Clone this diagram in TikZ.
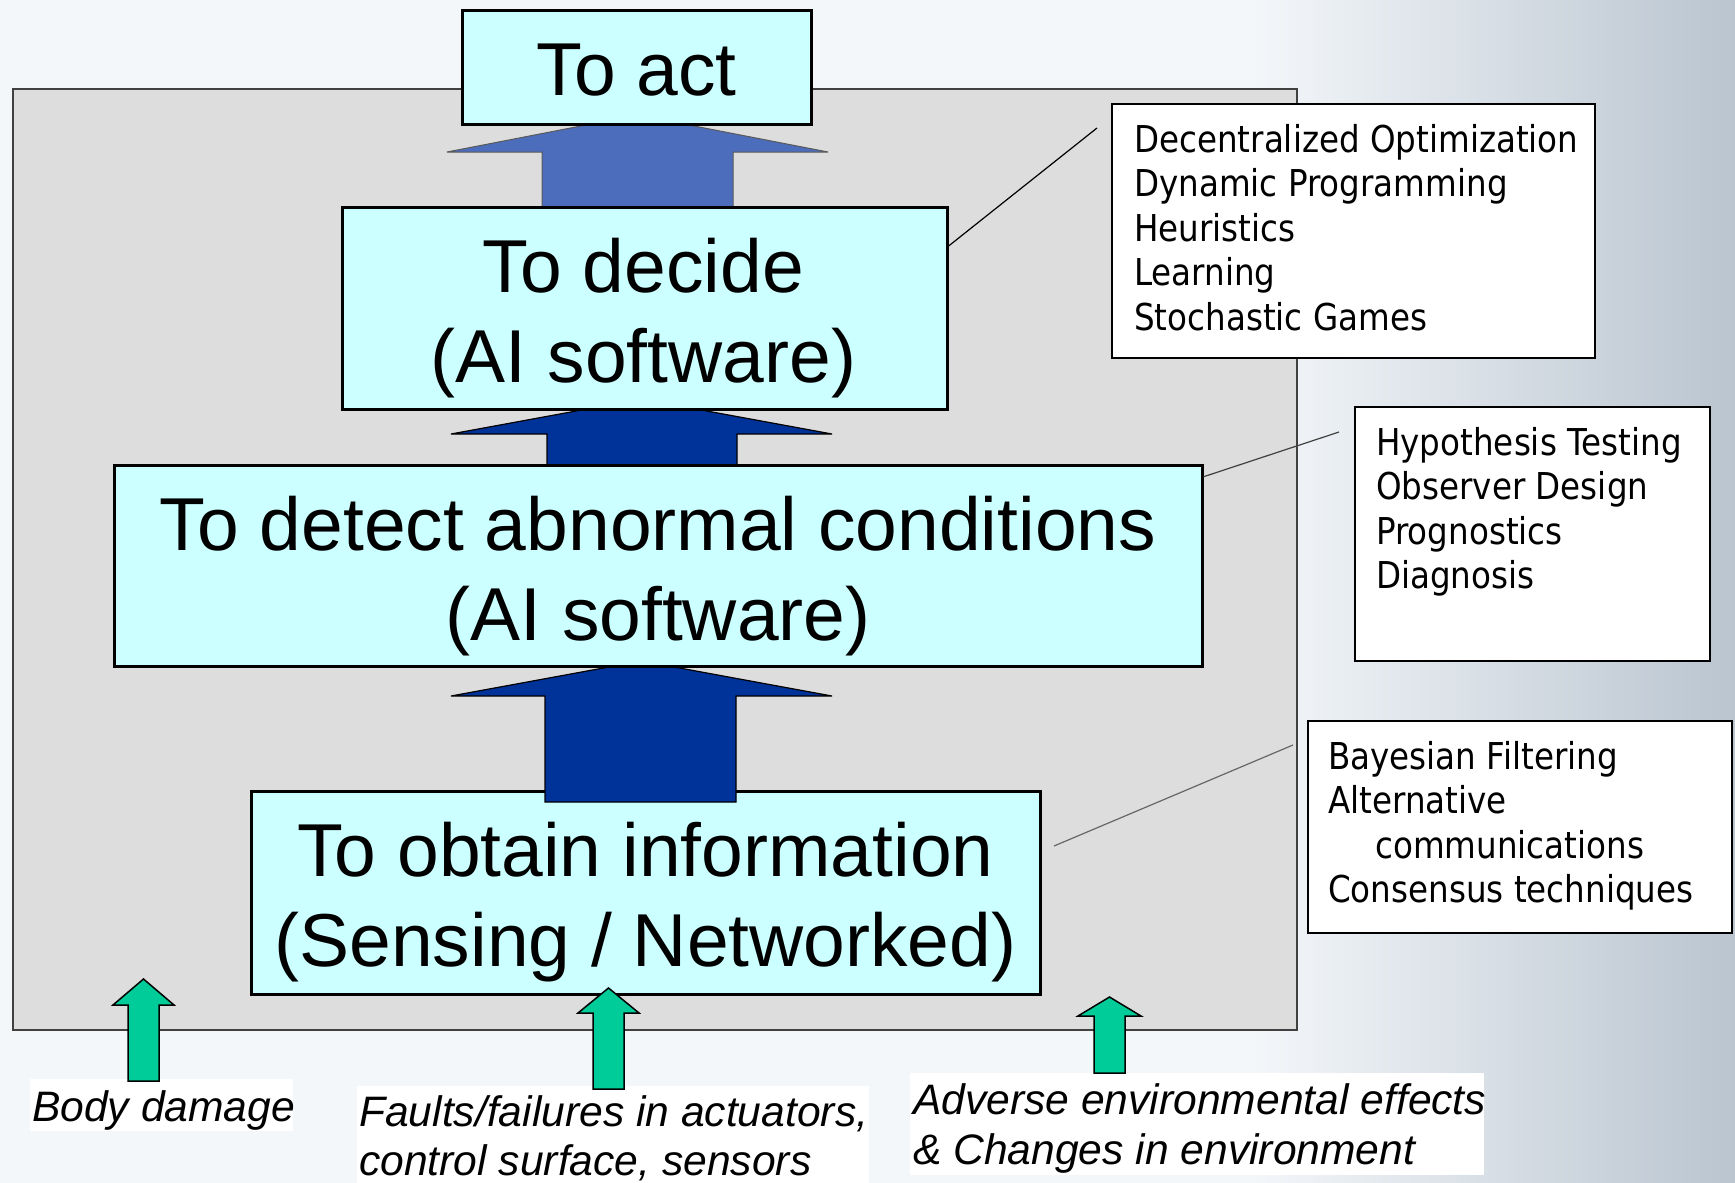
\documentclass[tikz,border=0pt]{standalone}
\usepackage{fontspec}
\setmainfont{Liberation Sans}
\newfontfamily\tah[FakeStretch=0.88]{DejaVu Sans}
\usetikzlibrary{calc}
\definecolor{boxcyan}{HTML}{CCFFFF}
\definecolor{darkblue}{HTML}{003399}
\definecolor{midblue}{HTML}{4C6CBC}
\definecolor{tealgreen}{HTML}{00CC99}
\definecolor{panelgrey}{HTML}{DDDDDD}
\definecolor{panelborder}{HTML}{404040}
\definecolor{bgbase}{HTML}{F4F7FA}
\definecolor{bgright}{HTML}{BAC5D0}
\begin{document}
\begin{tikzpicture}[x=1pt,y=-1pt,
  bigbox/.style={draw=black, line width=3pt, fill=boxcyan, inner sep=0pt},
  bigtext/.style={font=\fontsize{75}{90}\selectfont, anchor=base, inner sep=0pt},
  infobox/.style={draw=black, line width=1.8pt, fill=white, inner sep=0pt},
  infotext/.style={font=\tah\fontsize{37}{44}\selectfont, anchor=base west, inner sep=0pt},
  labeltext/.style={font=\itshape\fontsize{42.6}{50}\selectfont, anchor=base west, inner sep=0pt},
  blockarrow/.style={draw=black, line width=1.2pt, fill=darkblue},
  lightarrow/.style={draw=black!65, line width=1pt, fill=midblue},
  greenarrow/.style={draw=black, line width=1.5pt, fill=tealgreen},
  leader/.style={line width=1.2pt}]
\useasboundingbox (0,0) rectangle (1735,1183);
% slide background
\fill[bgbase] (0,0) rectangle (1735,1183);
\shade[left color=bgbase, right color=bgright] (1250,0) rectangle (1735,1183);
% grey panel
\draw[draw=panelborder, line width=2pt, fill=panelgrey] (12.5,89) rectangle (1297,1030);

% lowest box and the block arrows
\node[bigbox, minimum width=789pt, minimum height=203pt] (obtain) at (645.5,892.5) {};
\draw[blockarrow] (545,802) -- (545,696) -- (451,696) -- (641.5,661) -- (832,696) -- (736,696) -- (736,802) -- cycle;
\draw[blockarrow] (547,465) -- (547,434) -- (451,434) -- (641.5,399) -- (832,434) -- (737,434) -- (737,465) -- cycle;
\draw[lightarrow] (542,207) -- (542,152) -- (447,152) -- (637.5,115) -- (828,152) -- (733,152) -- (733,207) -- cycle;

\node[bigbox, minimum width=1088pt, minimum height=201pt] (detect) at (658,565.5) {};
\node[bigbox, minimum width=605pt, minimum height=202pt] (decide) at (644.5,308) {};
\node[bigbox, minimum width=349pt, minimum height=114pt] (act) at (636.5,67) {};

\node[bigtext] (acttxt) at (636.5,95) {To act};
\node[bigtext] (decidetxtA) at (643.5,292) {To decide};
\node[bigtext] (decidetxtB) at (643.5,382) {(AI software)};
\node[bigtext] (detecttxtA) at (658,550) {To detect abnormal conditions};
\node[bigtext] (detecttxtB) at (658,640) {(AI software)};
\node[bigtext] (obtaintxtA) at (645.5,876) {To obtain information};
\node[bigtext] (obtaintxtB) at (645.5,966) {(Sensing / Networked)};

% information boxes
\node[infobox, minimum width=483pt, minimum height=254pt] (infoA) at (1353.5,231) {};
\node[infobox, minimum width=355pt, minimum height=254pt] (infoB) at (1532.5,534) {};
\node[infobox, minimum width=424pt, minimum height=212pt] (infoC) at (1520,827) {};

\node[infotext] (a1) at (1134,152) {Decentralized Optimization};
\node[infotext] (a2) at (1134,196.5) {Dynamic Programming};
\node[infotext] (a3) at (1134,241) {Heuristics};
\node[infotext] (a4) at (1134,285.5) {Learning};
\node[infotext] (a5) at (1134,330) {Stochastic Games};

\node[infotext] (b1) at (1376,455) {Hypothesis Testing};
\node[infotext] (b2) at (1376,499.5) {Observer Design};
\node[infotext] (b3) at (1376,544) {Prognostics};
\node[infotext] (b4) at (1376,588.5) {Diagnosis};

\node[infotext] (c1) at (1328,769) {Bayesian Filtering};
\node[infotext] (c2) at (1328,813.5) {Alternative};
\node[infotext] (c3) at (1375,858) {communications};
\node[infotext] (c4) at (1328,902.5) {Consensus techniques};

% leader lines
\coordinate (endA) at (1097,128);
\coordinate (endB) at (1339,432);
\coordinate (startC) at (1054,846);
\coordinate (endC) at (1293,745);
\draw[leader] ($(decide.north east)!0.198!(decide.south east)$) -- (endA);
\draw[leader, draw=black!75] ($(detect.north east)!0.065!(detect.south east)$) -- (endB);
\draw[leader, draw=black!60] (startC) -- (endC);

% bottom labels
\fill[white] (30,1079) rectangle (293,1131);
\fill[white] (357,1086) rectangle (869,1183);
\fill[white] (910,1073) rectangle (1484,1175);
\node[labeltext] (lbody) at (32,1121) {Body damage};
\node[labeltext] (lfault1) at (359,1126) {Faults/failures in actuators,};
\node[labeltext] (lfault2) at (359,1175) {control surface, sensors};
\node[labeltext] (ladv1) at (913,1114) {Adverse environmental effects};
\node[labeltext] (ladv2) at (913,1164) {\& Changes in environment};

% green input arrows
\draw[greenarrow] (128,1081) -- (128,1005) -- (113,1005) -- (143.5,979) -- (174,1005) -- (159,1005) -- (159,1081) -- cycle;
\draw[greenarrow] (593,1089) -- (593,1013) -- (578,1013) -- (608.5,988) -- (639,1013) -- (624,1013) -- (624,1089) -- cycle;
\draw[greenarrow] (1094,1073) -- (1094,1016) -- (1078,1016) -- (1109.5,997) -- (1141,1016) -- (1125,1016) -- (1125,1073) -- cycle;
\end{tikzpicture}
\end{document}
